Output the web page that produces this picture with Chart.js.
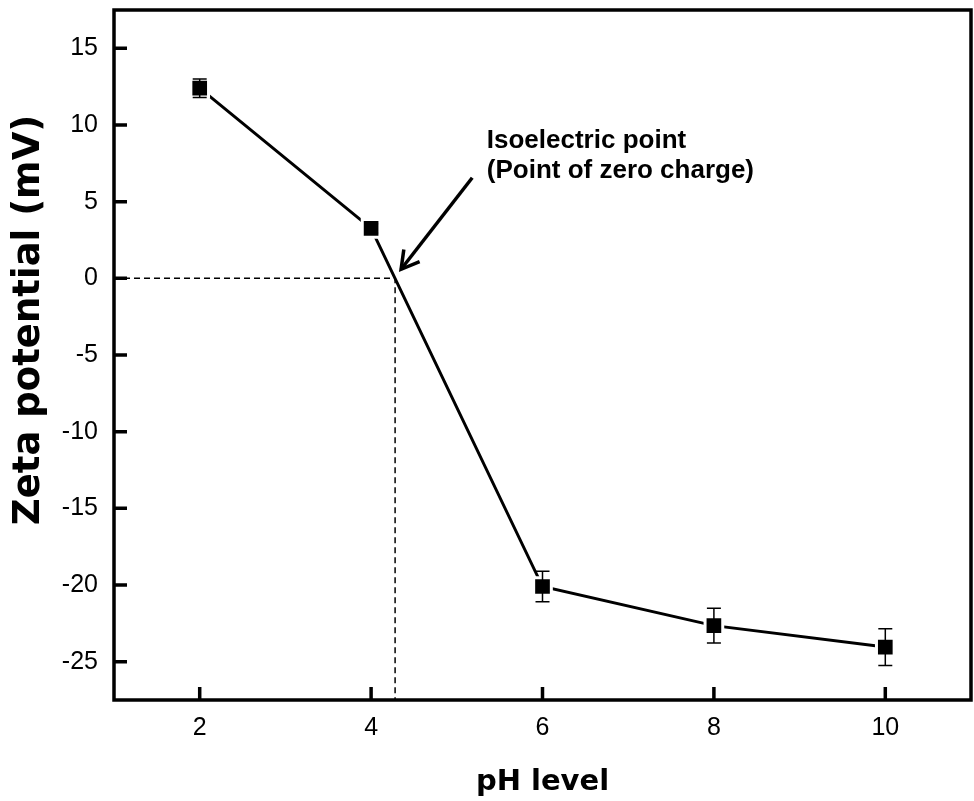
<!DOCTYPE html>
<html>
<head>
<meta charset="utf-8">
<script src="https://cdn.jsdelivr.net/npm/chart.js@4.4.1/dist/chart.umd.min.js"></script>
<style>
html,body{margin:0;padding:0;background:#fff;}
canvas{display:block;}
</style>
</head>
<body>
<canvas id="c" width="974" height="801"></canvas>
<script>
// ---- data ----
const phLevels = [2, 4, 6, 8, 10];
const zetaPotential = [12.4, 3.26, -20.1, -22.65, -24.05];
const zetaError = [0.6, 0.3, 1.0, 1.13, 1.2];
const xTickValues = [2, 4, 6, 8, 10];
const yTickValues = [-25, -20, -15, -10, -5, 0, 5, 10, 15];
const xRange = [1, 11];
const yRange = [-27.5, 17.5];
const isoelectricPH = 4.28;
const annotationLines = ['Isoelectric point', '(Point of zero charge)'];
const annotationAnchor = {x: 5.35, y: 8.5};
const arrowTail = {x: 5.18, y: 6.56};
const arrowTip = {x: 4.35, y: 0.59};
const xTitle = 'pH level';
const yTitle = 'Zeta potential (mV)';

const mainPoints = phLevels.map((x, i) => ({x: x, y: zetaPotential[i]}));
const refLine = [
  {x: xRange[0], y: 0},
  {x: isoelectricPH, y: 0},
  {x: isoelectricPH, y: yRange[0]}
];

const framePlugin = {
  id: 'frame',
  afterDraw(chart) {
    const {ctx, chartArea: a, scales: {x, y}} = chart;
    ctx.save();
    ctx.strokeStyle = '#000';
    ctx.lineWidth = 3.5;
    ctx.lineCap = 'butt';
    ctx.beginPath();
    yTickValues.forEach(v => {
      const py = y.getPixelForValue(v);
      ctx.moveTo(a.left, py);
      ctx.lineTo(a.left + 13, py);
    });
    xTickValues.forEach(v => {
      const px = x.getPixelForValue(v);
      ctx.moveTo(px, a.bottom);
      ctx.lineTo(px, a.bottom - 13);
    });
    ctx.stroke();
    ctx.strokeRect(a.left, a.top, a.right - a.left, a.bottom - a.top);
    ctx.restore();
  }
};

const errorBarPlugin = {
  id: 'errorbars',
  afterDatasetsDraw(chart) {
    const {ctx, scales: {x, y}} = chart;
    ctx.save();
    ctx.strokeStyle = '#000';
    ctx.lineWidth = 1.5;
    ctx.beginPath();
    phLevels.forEach((v, i) => {
      const px = x.getPixelForValue(v);
      const top = y.getPixelForValue(zetaPotential[i] + zetaError[i]);
      const bot = y.getPixelForValue(zetaPotential[i] - zetaError[i]);
      ctx.moveTo(px, top); ctx.lineTo(px, bot);
      ctx.moveTo(px - 7, top); ctx.lineTo(px + 7, top);
      ctx.moveTo(px - 7, bot); ctx.lineTo(px + 7, bot);
    });
    ctx.stroke();
    ctx.restore();
  }
};

const annotationPlugin = {
  id: 'annot',
  afterDraw(chart) {
    const {ctx, chartArea: a, scales: {x, y}} = chart;
    ctx.save();
    // annotation text
    ctx.fillStyle = '#000';
    ctx.font = 'bold 26px "Liberation Sans", Arial, sans-serif';
    ctx.textAlign = 'left';
    ctx.textBaseline = 'alphabetic';
    const tx = x.getPixelForValue(annotationAnchor.x);
    const ty = y.getPixelForValue(annotationAnchor.y);
    annotationLines.forEach((t, i) => ctx.fillText(t, tx, ty + i * 30));
    // arrow
    const x1 = x.getPixelForValue(arrowTail.x), y1 = y.getPixelForValue(arrowTail.y);
    const x2 = x.getPixelForValue(arrowTip.x), y2 = y.getPixelForValue(arrowTip.y);
    ctx.strokeStyle = '#000';
    ctx.lineWidth = 3.5;
    ctx.lineCap = 'butt';
    ctx.lineJoin = 'miter';
    ctx.beginPath();
    ctx.moveTo(x1, y1); ctx.lineTo(x2, y2);
    ctx.stroke();
    const ang = Math.atan2(y1 - y2, x1 - x2);
    const hl = 20, spread = Math.PI / 6;
    ctx.beginPath();
    ctx.moveTo(x2 + hl * Math.cos(ang + spread), y2 + hl * Math.sin(ang + spread));
    ctx.lineTo(x2, y2);
    ctx.lineTo(x2 + hl * Math.cos(ang - spread), y2 + hl * Math.sin(ang - spread));
    ctx.stroke();
    // y axis title
    ctx.font = 'bold 37px "DejaVu Sans", sans-serif';
    ctx.textAlign = 'center';
    ctx.textBaseline = 'middle';
    ctx.translate(29, a.top + 310);
    ctx.rotate(-Math.PI / 2);
    ctx.fillText(yTitle, 0, 0);
    ctx.restore();
  }
};

function zeroPad(s) {
  s.paddingLeft = 0; s.paddingRight = 0; s.paddingTop = 0; s.paddingBottom = 0;
}

new Chart(document.getElementById('c'), {
  type: 'line',
  data: {
    datasets: [
      {
        data: mainPoints,
        borderColor: '#000',
        borderWidth: 3,
        tension: 0,
        pointStyle: 'rect',
        pointRadius: 12.5,
        pointBackgroundColor: '#000',
        pointBorderColor: '#fff',
        pointBorderWidth: 3,
        order: 0
      },
      {
        data: refLine,
        borderColor: '#000',
        borderWidth: 1.5,
        borderDash: [6, 4],
        pointRadius: 0,
        tension: 0,
        order: 1
      }
    ]
  },
  options: {
    responsive: false,
    animation: false,
    devicePixelRatio: 1,
    layout: {autoPadding: false, padding: {top: 10, right: 3, left: 0, bottom: 0}},
    plugins: {legend: {display: false}, tooltip: {enabled: false}},
    scales: {
      x: {
        type: 'linear',
        min: xRange[0],
        max: xRange[1],
        afterBuildTicks: s => { s.ticks = xTickValues.map(v => ({value: v})); },
        afterFit: s => { s.height = 101; zeroPad(s); },
        grid: {display: false, drawTicks: false},
        border: {display: false},
        ticks: {color: '#000', padding: 13, font: {family: '"Liberation Sans", Arial, sans-serif', size: 25}},
        title: {display: true, text: xTitle, color: '#000', padding: {top: 0, bottom: 1},
          font: {family: '"DejaVu Sans", sans-serif', size: 29, weight: 'bold'}}
      },
      y: {
        type: 'linear',
        min: yRange[0],
        max: yRange[1],
        afterBuildTicks: s => { s.ticks = yTickValues.map(v => ({value: v})); },
        afterFit: s => { s.width = 114; zeroPad(s); },
        grid: {display: false, drawTicks: false},
        border: {display: false},
        ticks: {color: '#000', padding: 16, font: {family: '"Liberation Sans", Arial, sans-serif', size: 25}},
        title: {display: false}
      }
    }
  },
  plugins: [errorBarPlugin, framePlugin, annotationPlugin]
});
</script>
</body>
</html>
